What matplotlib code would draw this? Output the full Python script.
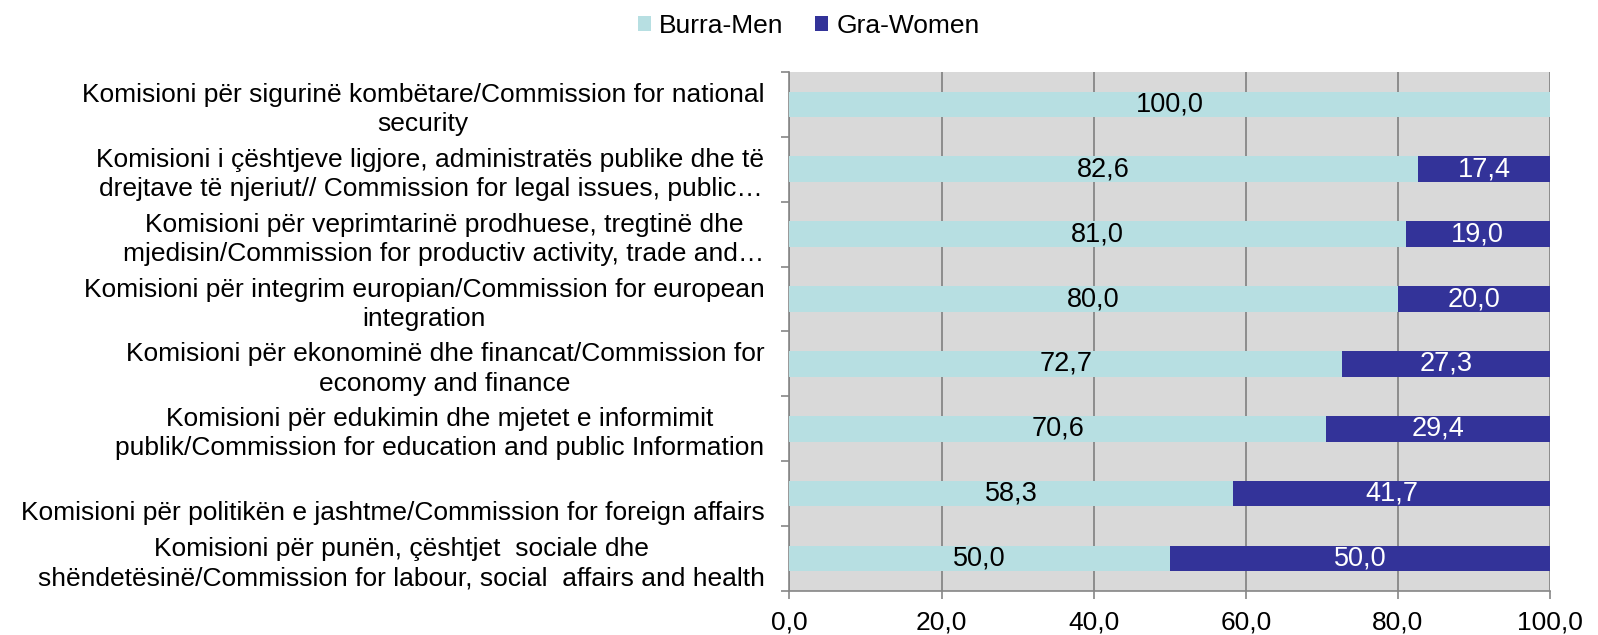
import matplotlib.pyplot as plt
import numpy as np
from matplotlib.ticker import FixedLocator, FuncFormatter

plt.rcParams['font.family'] = ['Liberation Sans', 'DejaVu Sans']

categories = [
    "Komisioni për sigurinë kombëtare/Commission for national\nsecurity",
    "Komisioni i çështjeve ligjore, administratës publike dhe të\ndrejtave të njeriut// Commission for legal issues, public…",
    "Komisioni për veprimtarinë prodhuese, tregtinë dhe\nmjedisin/Commission for productiv activity, trade and…",
    "Komisioni për integrim europian/Commission for european\nintegration",
    "Komisioni për ekonominë dhe financat/Commission for\neconomy and finance",
    "Komisioni për edukimin dhe mjetet e informimit\npublik/Commission for education and public Information",
    "\nKomisioni për politikën e jashtme/Commission for foreign affairs",
    "Komisioni për punën, çështjet  sociale dhe\nshëndetësinë/Commission for labour, social  affairs and health",
]
men = [100.0, 82.6, 81.0, 80.0, 72.7, 70.6, 58.3, 50.0]
women = [0.0, 17.4, 19.0, 20.0, 27.3, 29.4, 41.7, 50.0]
series_names = ["Burra-Men", "Gra-Women"]

col_men = '#B7DFE2'
col_women = '#333399'

fig = plt.figure(figsize=(15.98, 6.35), dpi=100)
ax = fig.add_axes([0.494, 0.069, 0.476, 0.818])
ax.set_facecolor('#D9D9D9')

y = np.arange(len(categories))
bh = 0.39
b1 = ax.barh(y, men, height=bh, color=col_men, label=series_names[0], zorder=3)
b2 = ax.barh(y, women, left=men, height=bh, color=col_women, label=series_names[1], zorder=3)

for i in range(len(categories)):
    ax.text(men[i] / 2, y[i], f"{men[i]:.1f}".replace('.', ','), ha='center', va='center',
            fontsize=19.5, color='black', zorder=4)
    if women[i] > 0:
        ax.text(men[i] + women[i] / 2, y[i], f"{women[i]:.1f}".replace('.', ','), ha='center',
                va='center', fontsize=19.5, color='white', zorder=4)

ax.set_xlim(0, 100)
ax.set_ylim(len(categories) - 0.5, -0.5)
ax.set_xticks(np.arange(0, 101, 20))
ax.xaxis.set_major_formatter(FuncFormatter(lambda v, p: f"{v:.1f}".replace('.', ',')))
ax.grid(axis='x', color='#808080', linewidth=1.2, zorder=1)

ax.set_yticks(y)
ax.set_yticklabels(categories, fontsize=19, multialignment='center', linespacing=1.27)
ax.yaxis.set_minor_locator(FixedLocator(np.arange(-0.5, len(categories), 1)))
ax.tick_params(axis='y', which='major', length=0, pad=18)
ax.tick_params(axis='y', which='minor', length=6, color='#868686', width=1.2)
ax.tick_params(axis='x', length=6, color='#868686', width=1.2, labelsize=19, pad=8)

for s in ['top', 'right']:
    ax.spines[s].set_visible(False)
for s in ['left', 'bottom']:
    ax.spines[s].set_color('#868686')
    ax.spines[s].set_linewidth(1.2)

fig.legend(handles=[b1, b2], loc='upper center', bbox_to_anchor=(0.506, 1.015), ncol=2,
           frameon=False, fontsize=19, handlelength=0.5, handleheight=0.5,
           handletextpad=0.3, columnspacing=1.2)

fig.savefig('out.png', dpi=100)
